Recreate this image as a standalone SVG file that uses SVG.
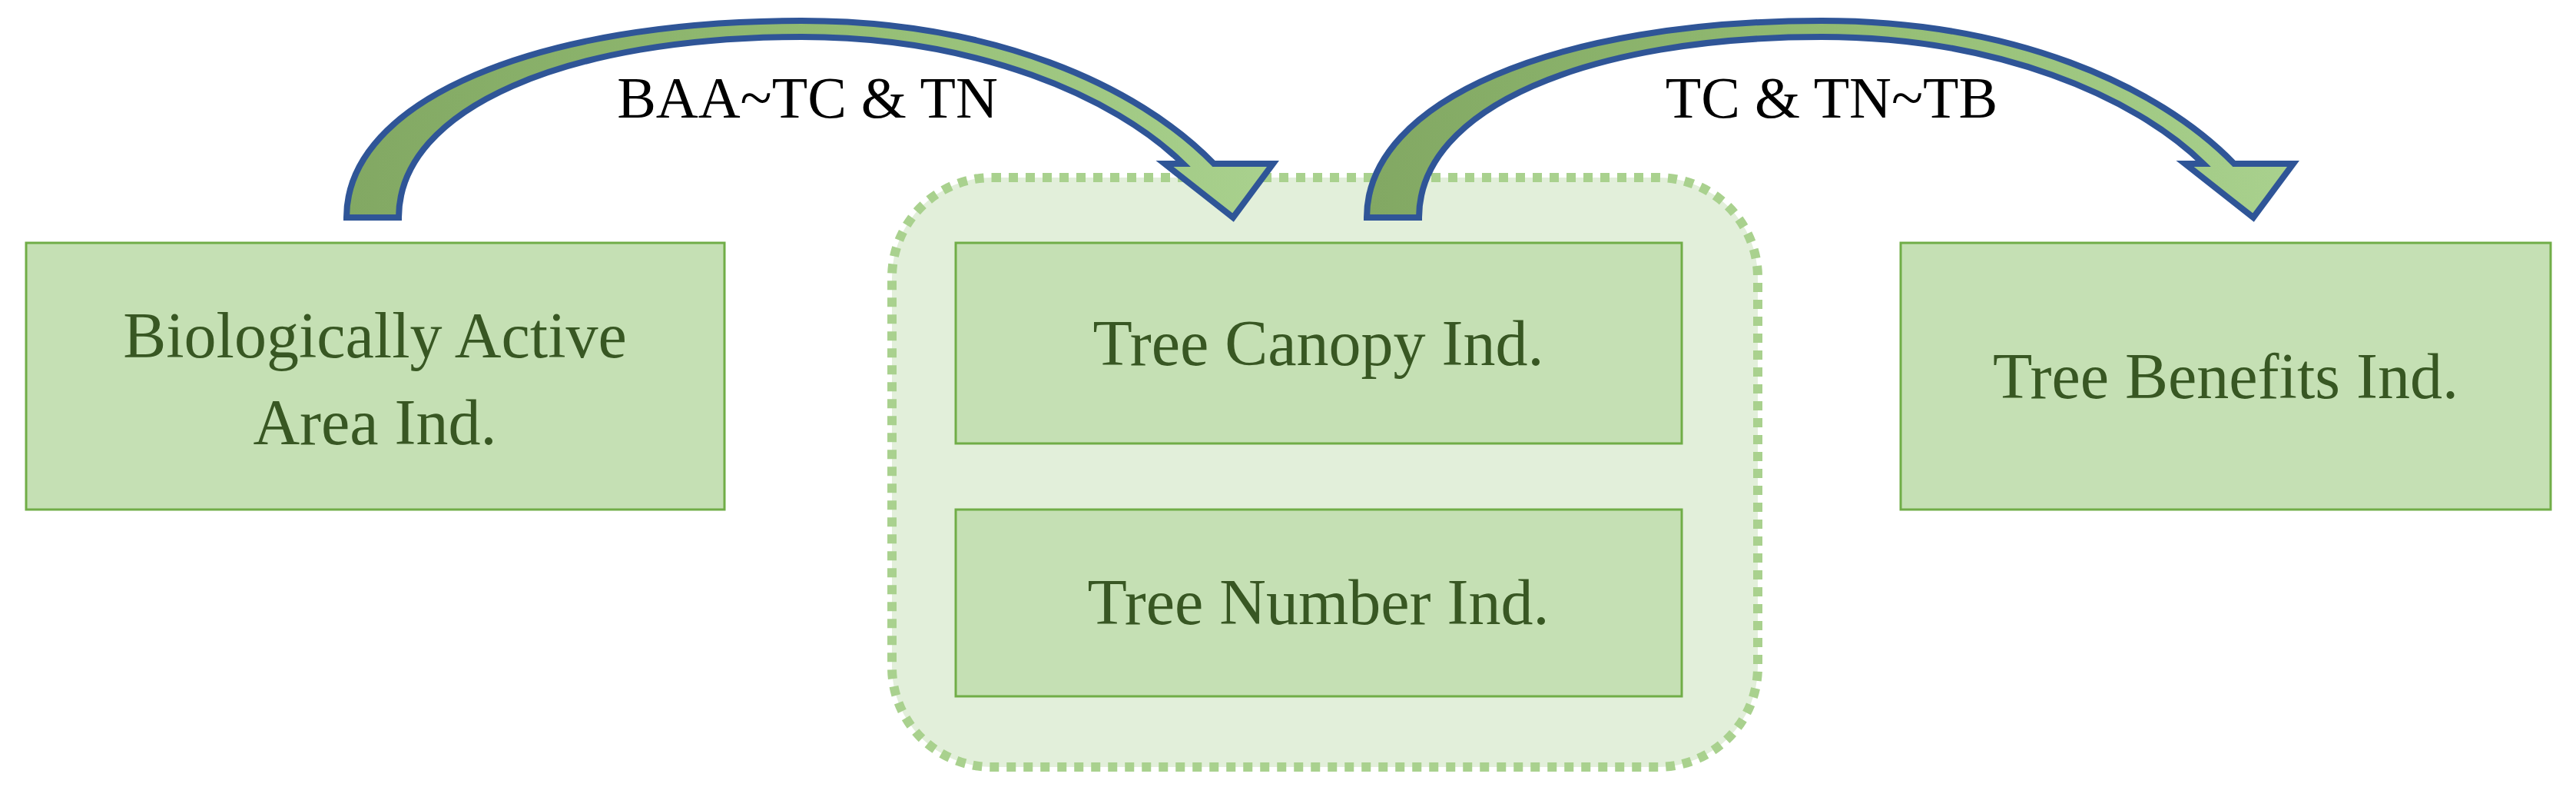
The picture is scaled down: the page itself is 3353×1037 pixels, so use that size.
<svg xmlns="http://www.w3.org/2000/svg" width="3353" height="1037" viewBox="0 0 3353 1037">
<style>
.box{fill:#c5e0b4;stroke:#70ad47;stroke-width:3}
.t{font-family:"Liberation Serif","DejaVu Serif",serif;font-size:84px;fill:#385723;text-anchor:middle}
.lbl{font-family:"Liberation Serif","DejaVu Serif",serif;font-size:76px;fill:#000;text-anchor:middle}
.arr{fill:url(#g);stroke:#2f5597;stroke-width:8;stroke-linejoin:miter}
</style>
<defs>
<linearGradient id="g" x1="0" y1="0" x2="1" y2="0">
<stop offset="0" stop-color="#82a863"/><stop offset="0.5" stop-color="#92bb72"/><stop offset="1" stop-color="#a9d18e"/>
</linearGradient>
<path id="ca" d="M451,283 C451,130 700,27 1043,27 C1290,27 1480,110 1580,213 L1657,213 L1605,283 L1516,213 L1540,213 C1450,125 1270,48 1043,48 C740,48 519,140 519,283 Z"/>
</defs>
<rect width="3353" height="1037" fill="#fff"/>
<g id="group">
<rect x="1161" y="231" width="1127" height="767" rx="130" fill="#e2efda" stroke="#a9d18e" stroke-width="12" stroke-dasharray="12 10"/>
</g>
<g id="n1"><rect class="box" x="34" y="316" width="909" height="347"/>
<text class="t" x="488" y="465">Biologically Active</text><text class="t" x="488" y="578">Area Ind.</text></g>
<g id="n2"><rect class="box" x="1244" y="316" width="945" height="261"/>
<text class="t" x="1716" y="475">Tree Canopy Ind.</text></g>
<g id="n3"><rect class="box" x="1244" y="663" width="945" height="243"/>
<text class="t" x="1716" y="812">Tree Number Ind.</text></g>
<g id="n4"><rect class="box" x="2474" y="316" width="846" height="347"/>
<text class="t" x="2897" y="518">Tree Benefits Ind.</text></g>
<g id="connectors">
<use href="#ca" class="arr"/>
<use href="#ca" class="arr" transform="translate(1328,0)"/>
<text class="lbl" x="1051" y="153">BAA~TC &amp; TN</text>
<text class="lbl" x="2384" y="153">TC &amp; TN~TB</text>
</g>
</svg>
